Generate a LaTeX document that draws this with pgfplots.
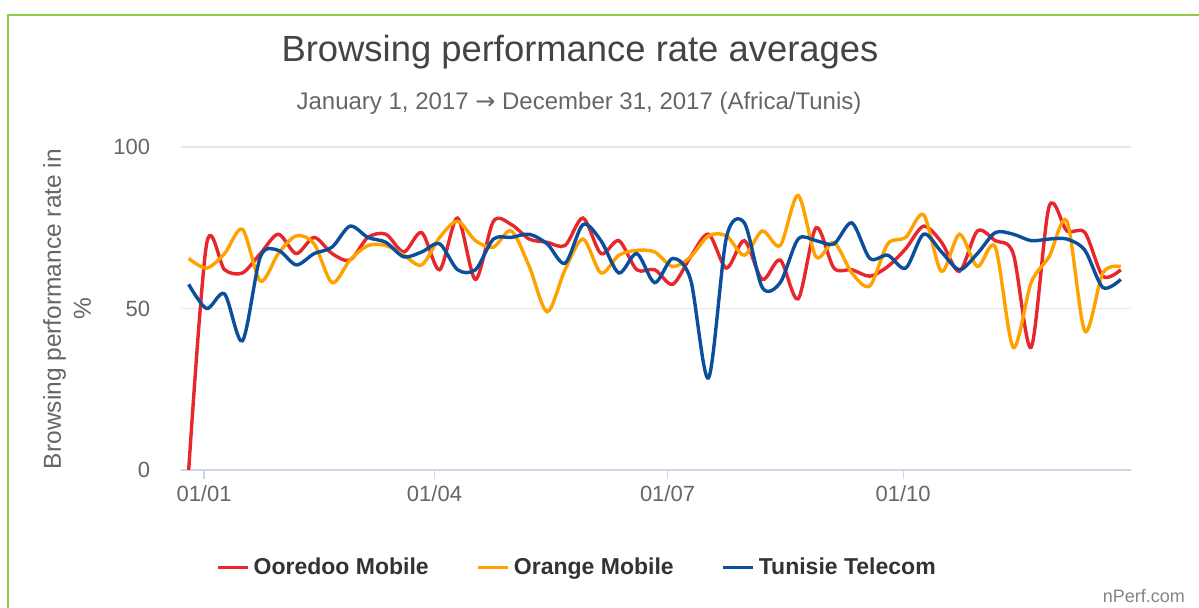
\documentclass[border=0pt]{standalone}
\usepackage{fontspec}
\setmainfont{Liberation Sans}
\newfontfamily\dejavu{DejaVu Sans}
\usepackage{pgfplots}
\usepackage{pgfplotstable}
\pgfplotsset{compat=1.18}

\definecolor{ooredoo}{HTML}{E8262B}
\definecolor{orangem}{HTML}{FFA200}
\definecolor{tunisie}{HTML}{0B4F9C}
\definecolor{gridgray}{HTML}{E6E6E6}
\definecolor{axisblue}{HTML}{CCD6EB}
\definecolor{titlegray}{HTML}{444444}
\definecolor{labelgray}{HTML}{666666}
\definecolor{legendgray}{HTML}{333333}
\definecolor{framegreen}{HTML}{8DCB4A}

% weekly averages, day 0 = 1 January 2017
\pgfplotstableread{
day ooredoo orange tunisie
-6   0    65.5 57.5
1    70   62.5 50
8    62   67   54.5
15   61   74.5 40
22   67   58.5 66
29   73   67   68
36   67   72.5 63.5
43   72   70   67
50   67   58   69
57   65   65   75.5
64   72   69.5 72
71   73   69.5 70.5
78   67.5 66.5 66
85   73.5 63.5 67.5
92   62   72   70
99   78   77   62
106  59   71   62
113  77   69   71.5
120  76   74   72
127  71.5 63   73
134  70.5 49   70
141  69.5 62   64
148  78   71.5 76
155  67   61   71
162  71   66.5 61
169  62   68   67
176  62   67.5 58
183  57.5 63   65.5
190  66   66   59
197  73   72.5 28.5
204  62.5 72.5 72
211  71   66.5 76.5
218  59   74   56.5
225  65   69.5 58
232  53   85   71.5
239  75   66   71
246  62.5 70.5 70
253  62   61   76.5
260  60   57   65.5
267  63   70   66.5
274  68.5 72   62.5
281  75.5 79   73
288  70.5 61.5 67.5
295  61.5 73   62
302  74   63   67
309  71   69   73.5
316  67   38   73
323  38   58   71
330  81.5 66   71.5
337  74   77   71.5
344  73.5 43   68
351  60   61   56.5
358  62   63   59
}\weekly

\begin{document}
\begin{tikzpicture}[x=0.5pt,y=-0.5pt]
\clip (0,0) rectangle (1199,608);
\fill[white] (0,0) rectangle (1199,608);
\draw[framegreen, line width=1pt] (8,620) -- (8,15) -- (1210,15);
\coordinate (plotorigin) at (181,470);

\node[anchor=base, text=titlegray, font=\fontsize{18.2}{22}\selectfont]
  at (580,62) {Browsing performance rate averages};
\node[anchor=base, text=labelgray, font=\fontsize{12}{14}\selectfont]
  at (579,110) {January 1, 2017 {\dejavu →} December 31, 2017 (Africa/Tunis)};
\node[rotate=90, align=center, text=labelgray, font=\fontsize{12.25}{15}\selectfont]
  at (67,309) {Browsing performance rate in\\\%};
\node[anchor=base east, text=labelgray!80, font=\fontsize{9}{11}\selectfont]
  at (1192,603) {nPerf.com};

\begin{axis}[
    at={(plotorigin)}, anchor=south west,
    scale only axis, width=475pt, height=161.5pt,
    xmin=-9, xmax=362, ymin=0, ymax=100,
    axis x line=bottom, axis y line=left,
    x axis line style={draw=axisblue, line width=0.6pt, -},
    y axis line style={draw=none},
    xtick={0,90,181,273},
    xticklabels={01/01,01/04,01/07,01/10},
    ytick={0,50,100},
    ymajorgrids, grid style={gridgray, line width=0.6pt},
    tick align=outside,
    x tick style={axisblue, line width=0.6pt},
    y tick style={draw=none},
    x tick label style={font=\fontsize{11}{13}\selectfont, text=labelgray},
    y tick label style={font=\fontsize{11}{13}\selectfont, text=labelgray,
                        anchor=east, inner sep=0pt, xshift=-11pt},
    /pgf/number format/assume math mode=true,
    legend columns=3,
    legend style={draw=none, fill=none, at={(0.418,-0.303)}, anchor=center,
                  font=\bfseries\fontsize{11.5}{13}\selectfont, text=legendgray,
                  /tikz/every even column/.append style={column sep=22pt}},
    legend image code/.code={\draw[#1, line width=1.6pt] (0pt,0pt) -- (15pt,0pt);},
    every axis plot/.append style={line width=1.7pt, smooth, tension=0.5, no markers},
  ]
  \addplot[ooredoo] table[x=day, y=ooredoo] {\weekly};
  \addlegendentry{Ooredoo Mobile}
  \addplot[orangem] table[x=day, y=orange] {\weekly};
  \addlegendentry{Orange Mobile}
  \addplot[tunisie] table[x=day, y=tunisie] {\weekly};
  \addlegendentry{Tunisie Telecom}
\end{axis}
\end{tikzpicture}
\end{document}
